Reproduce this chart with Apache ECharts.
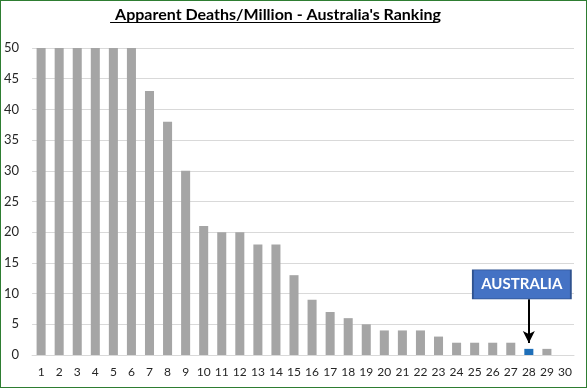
<!DOCTYPE html>
<html><head><meta charset="utf-8">
<script src="https://cdn.jsdelivr.net/npm/echarts@6/dist/echarts.min.js"></script>
<style>
html,body{margin:0;padding:0;background:#fff;}
#c{position:absolute;left:0;top:0;width:585px;height:386px;border:1px solid #2E7D32;}
</style></head>
<body><div id="c"></div>
<script>
const categories = Array.from({length:30},(_, i)=>String(i+1));
const values = [50,50,50,50,50,50,43,38,30,21,20,20,18,18,13,9,7,6,5,4,4,4,3,2,2,2,2,1,1,0];
const yTicks = {min:0, max:50, interval:5};
const titleText = "Apparent Deaths/Million - Australia's Ranking";
const highlightCategory = '28';
const highlightLabel = 'AUSTRALIA';
const boxValue = 11.5;
const arrowFrom = 9.1, arrowTo = 1.95;

const font = "Lato, 'Open Sans', sans-serif";
const titleSize = 16;
const titleCenter = 272, titleTop = 1;
const cv = document.createElement('canvas').getContext('2d');
cv.font = 'bold ' + titleSize + 'px Lato';
const tw = cv.measureText(titleText).width;

const chart = echarts.init(document.getElementById('c'), null, {renderer:'canvas'});
chart.setOption({
  animation:false,
  title:{text:titleText, left:titleCenter, textAlign:'center', top:titleTop,
    textStyle:{fontFamily:font, fontWeight:'bold', fontSize:titleSize, color:'#000'}},
  graphic:[{type:'line', shape:{x1:titleCenter - tw/2, y1:21.5, x2:titleCenter + tw/2, y2:21.5},
    style:{stroke:'#000', lineWidth:1.2}}],
  grid:{left:29, right:12, top:47, bottom:32},
  xAxis:{type:'category', data:categories,
    axisLine:{lineStyle:{color:'#D9D9D9'}}, axisTick:{show:false},
    axisLabel:{fontFamily:font, fontSize:12, color:'#262626', margin:11, interval:0}},
  yAxis:{type:'value', min:yTicks.min, max:yTicks.max, interval:yTicks.interval,
    axisLine:{show:false}, axisTick:{show:false},
    splitLine:{lineStyle:{color:'#D9D9D9'}},
    axisLabel:{fontFamily:font, fontSize:13, color:'#262626', margin:13}},
  series:[{type:'bar', barWidth:'50%',
    data: values.map((v,i)=>({value:v, itemStyle:{color: categories[i]===highlightCategory ? '#1F6FB8' : '#A5A5A5'}})),
    markLine:{silent:true, symbol:['none','arrow'], symbolSize:[9,12],
      lineStyle:{color:'#000', width:2, type:'solid'}, label:{show:false},
      data:[[{coord:[highlightCategory, arrowFrom]},{coord:[highlightCategory, arrowTo]}]]},
    markPoint:{silent:true, symbol:'rect', symbolSize:[98,29], symbolOffset:[-7,0],
      itemStyle:{color:'#4472C4', borderColor:'#2F528F', borderWidth:1},
      label:{show:true, position:'inside', formatter:highlightLabel, color:'#fff',
        fontFamily:font, fontWeight:'bold', fontSize:15},
      data:[{coord:[highlightCategory, boxValue]}]}
  }]
});
</script>
</body></html>
